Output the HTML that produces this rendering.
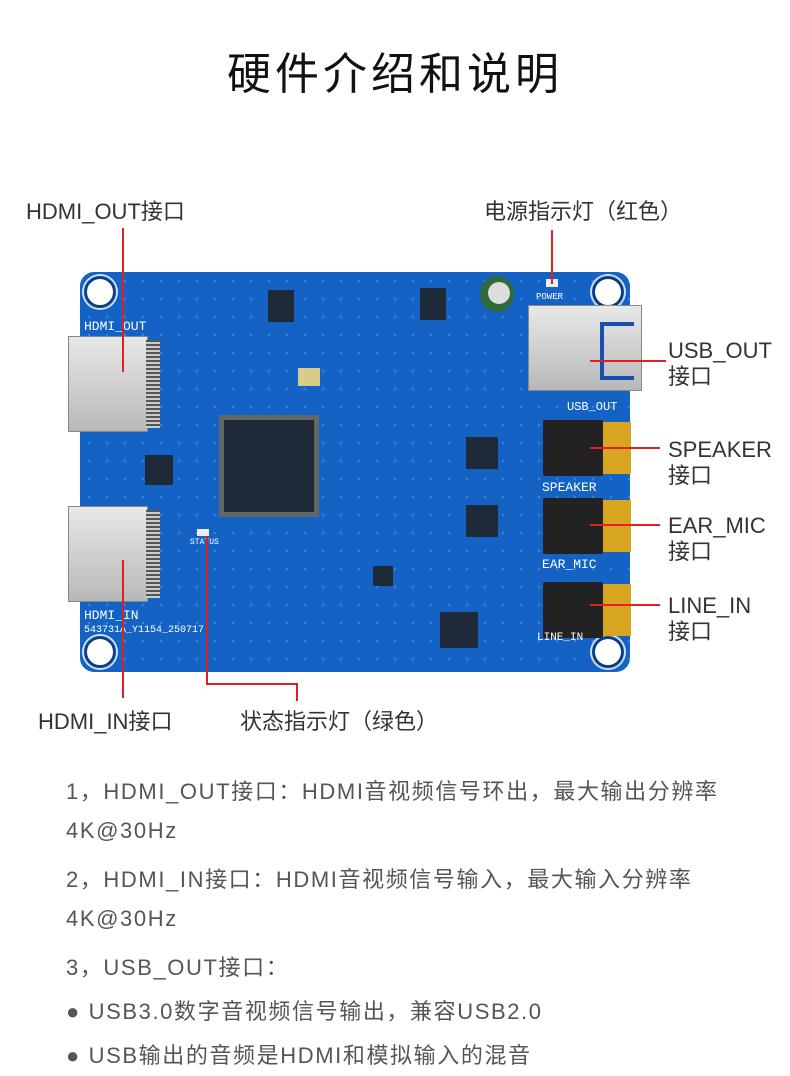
<!DOCTYPE html><html><head><meta charset="utf-8"><style>
body{margin:0;width:790px;height:1076px;background:#fff;position:relative;overflow:hidden;font-family:"Liberation Sans","Noto Sans CJK SC",sans-serif}
.a{position:absolute}
.t{position:absolute;color:#333;font-size:22px;white-space:nowrap;line-height:26px}
.r{position:absolute;background:#e02020}
.p{position:absolute;color:#555;font-size:22px;left:66px;white-space:nowrap;letter-spacing:1.6px}
.sil{position:absolute;background:linear-gradient(#e8e8e8,#b8b8b8);border:1px solid #888}
.jack{position:absolute;background:#222;border-radius:2px}
.gold{position:absolute;background:#d8a520}
.ic{position:absolute;background:#1e2a38}
.hole{position:absolute;width:26px;height:26px;border-radius:50%;background:#fff;border:3px solid #0e3f85;box-shadow:0 0 0 2px #cfe0f5}
.w{position:absolute;color:#fff;font-family:"Liberation Mono",monospace;font-size:13px}
</style></head><body>
<div class="a" style="left:0;top:38px;width:790px;text-align:center;font-size:44px;color:#111;letter-spacing:4px">硬件介绍和说明</div>

<div class="a" style="left:80px;top:272px;width:550px;height:400px;background:#1463c4;border-radius:14px;background-image:radial-gradient(#3a82d8 1px,transparent 1.5px);background-size:18px 18px"></div>
<div class="hole" style="left:84px;top:276px"></div><div class="hole" style="left:592px;top:276px"></div>
<div class="hole" style="left:84px;top:636px"></div><div class="hole" style="left:592px;top:636px"></div>

<div class="sil" style="left:68px;top:336px;width:78px;height:94px"></div>
<div class="sil" style="left:68px;top:506px;width:78px;height:94px"></div>
<div class="a" style="left:146px;top:340px;width:14px;height:88px;background:repeating-linear-gradient(#555 0 2px,#ccc 2px 4px)"></div>
<div class="a" style="left:146px;top:510px;width:14px;height:88px;background:repeating-linear-gradient(#555 0 2px,#ccc 2px 4px)"></div>
<div class="w" style="left:84px;top:319px">HDMI_OUT</div>
<div class="w" style="left:84px;top:608px">HDMI_IN</div>
<div class="w" style="left:84px;top:625px;font-size:10px">543731A_Y1154_250717</div>

<div class="ic" style="left:224px;top:420px;width:90px;height:92px;box-shadow:0 0 0 5px #666"></div>
<div class="ic" style="left:145px;top:455px;width:28px;height:30px"></div>
<div class="ic" style="left:466px;top:437px;width:32px;height:32px"></div>
<div class="ic" style="left:466px;top:505px;width:32px;height:32px"></div>
<div class="ic" style="left:440px;top:612px;width:38px;height:36px"></div>
<div class="ic" style="left:373px;top:566px;width:20px;height:20px"></div>
<div class="ic" style="left:268px;top:290px;width:26px;height:32px"></div>
<div class="ic" style="left:420px;top:288px;width:26px;height:32px"></div>
<div class="a" style="left:480px;top:276px;width:34px;height:36px;border-radius:50%;background:#2f6a3a"></div>
<div class="a" style="left:488px;top:282px;width:22px;height:22px;border-radius:50%;background:#ddd"></div>
<div class="a" style="left:298px;top:368px;width:22px;height:18px;background:#d8cc88"></div>

<div class="sil" style="left:528px;top:305px;width:112px;height:84px"></div>
<div class="a" style="left:600px;top:322px;width:30px;height:50px;border:4px solid #1a4fb0;border-right:none"></div>
<div class="w" style="left:567px;top:400px;font-size:12px">USB_OUT</div>
<div class="w" style="left:536px;top:292px;font-size:9px">POWER</div>
<div class="a" style="left:546px;top:279px;width:12px;height:8px;background:#eee"></div>

<div class="jack" style="left:543px;top:420px;width:60px;height:56px"></div><div class="gold" style="left:603px;top:422px;width:28px;height:52px"></div>
<div class="jack" style="left:543px;top:498px;width:60px;height:56px"></div><div class="gold" style="left:603px;top:500px;width:28px;height:52px"></div>
<div class="jack" style="left:543px;top:582px;width:60px;height:56px"></div><div class="gold" style="left:603px;top:584px;width:28px;height:52px"></div>
<div class="w" style="left:542px;top:480px">SPEAKER</div>
<div class="w" style="left:542px;top:557px">EAR_MIC</div>
<div class="w" style="left:537px;top:632px;font-size:11px">LINE_IN</div>
<div class="a" style="left:197px;top:529px;width:12px;height:7px;background:#eee"></div>
<div class="w" style="left:190px;top:538px;font-size:8px">STATUS</div>

<div class="r" style="left:122px;top:228px;width:2px;height:144px"></div>
<div class="r" style="left:122px;top:560px;width:2px;height:138px"></div>
<div class="r" style="left:551px;top:230px;width:2px;height:54px"></div>
<div class="r" style="left:590px;top:360px;width:76px;height:2px"></div>
<div class="r" style="left:590px;top:447px;width:70px;height:2px"></div>
<div class="r" style="left:590px;top:524px;width:70px;height:2px"></div>
<div class="r" style="left:590px;top:604px;width:70px;height:2px"></div>
<div class="r" style="left:206px;top:536px;width:2px;height:148px"></div>
<div class="r" style="left:206px;top:683px;width:92px;height:2px"></div>
<div class="r" style="left:296px;top:683px;width:2px;height:18px"></div>

<div class="t" style="left:26px;top:199px">HDMI_OUT接口</div>
<div class="t" style="left:484px;top:199px">电源指示灯（红色）</div>
<div class="t" style="left:668px;top:338px">USB_OUT<br>接口</div>
<div class="t" style="left:668px;top:437px">SPEAKER<br>接口</div>
<div class="t" style="left:668px;top:513px">EAR_MIC<br>接口</div>
<div class="t" style="left:668px;top:593px">LINE_IN<br>接口</div>
<div class="t" style="left:38px;top:709px">HDMI_IN接口</div>
<div class="t" style="left:240px;top:709px">状态指示灯（绿色）</div>

<div class="p" style="top:774px">1，HDMI_OUT接口：HDMI音视频信号环出，最大输出分辨率</div>
<div class="p" style="top:818px">4K@30Hz</div>
<div class="p" style="top:862px">2，HDMI_IN接口：HDMI音视频信号输入，最大输入分辨率</div>
<div class="p" style="top:906px">4K@30Hz</div>
<div class="p" style="top:950px">3，USB_OUT接口：</div>
<div class="p" style="top:994px">● USB3.0数字音视频信号输出，兼容USB2.0</div>
<div class="p" style="top:1038px">● USB输出的音频是HDMI和模拟输入的混音</div>
</body></html>
